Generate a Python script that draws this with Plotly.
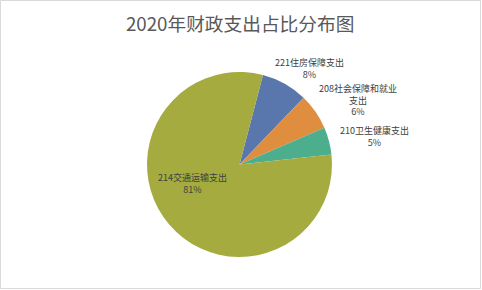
import plotly.graph_objects as go

# Data
categories = ["221住房保障支出", "208社会保障和就业<br>支出", "210卫生健康支出", "214交通运输支出"]
values = [8.1, 6.3, 4.8, 80.8]
colors = ["#5A77AD", "#DF8E40", "#4CAE8D", "#A5AB3F"]
title_text = "2020年财政支出占比分布图"

W, H = 482, 290
total = sum(values)
percents = [f"{round(v / total * 100)}%" for v in values]

fig = go.Figure()
fig.add_trace(go.Pie(
    labels=categories,
    values=values,
    sort=False,
    direction="clockwise",
    rotation=14.7,
    marker=dict(colors=colors, line=dict(width=0)),
    textinfo="none",
    hoverinfo="skip",
    showlegend=False,
    domain=dict(x=[147 / W, 332 / W], y=[1 - 257 / H, 1 - 72 / H]),
))

# label positions (pixel centres of the text blocks)
label_pos = [(309, 68.5), (358, 100), (374, 136.5), (192, 183)]
annotations = []
for cat, pct, (px, py) in zip(categories, percents, label_pos):
    annotations.append(dict(
        text=f"{cat}<br>{pct}",
        x=px / W, y=1 - py / H, xref="paper", yref="paper",
        xanchor="center", yanchor="middle", showarrow=False,
        font=dict(family="Noto Sans CJK SC", size=9, color="#404040"),
        align="center",
    ))
annotations.append(dict(
    text=title_text, x=240 / W, y=1 - 22 / H, xref="paper", yref="paper",
    xanchor="center", yanchor="middle", showarrow=False,
    font=dict(family="Noto Sans CJK SC", size=18.7, color="#595959"),
))

fig.update_layout(
    width=W, height=H,
    margin=dict(l=0, r=0, t=0, b=0),
    paper_bgcolor="white", plot_bgcolor="white",
    annotations=annotations,
    shapes=[dict(type="rect", xref="paper", yref="paper",
                 x0=0.5 / W, x1=480.5 / W, y0=1 - 288.5 / H, y1=1 - 0.5 / H,
                 line=dict(color="#D9D9D9", width=1), fillcolor="rgba(0,0,0,0)")],
)

fig.write_html("out.html")
